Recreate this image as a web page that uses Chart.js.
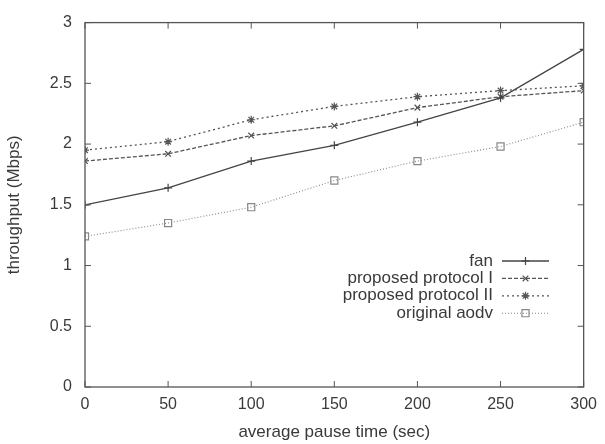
<!DOCTYPE html>
<html>
<head>
<meta charset="utf-8">
<script src="https://cdn.jsdelivr.net/npm/chart.js@4/dist/chart.umd.min.js"></script>
<style>
  html, body { margin: 0; padding: 0; background: #fff; }
  canvas { display: block; }
</style>
</head>
<body>
<canvas id="chart" width="605" height="444"></canvas>
<script>
const pauseTimes = [0, 50, 100, 150, 200, 250, 300]
const fan = [1.50, 1.64, 1.86, 1.99, 2.18, 2.38, 2.78]
const protocolI = [1.86, 1.92, 2.07, 2.15, 2.30, 2.39, 2.44]
const protocolII = [1.95, 2.02, 2.20, 2.31, 2.39, 2.44, 2.48]
const aodv = [1.24, 1.35, 1.48, 1.70, 1.86, 1.98, 2.18]

const xTicks = [0, 50, 100, 150, 200, 250, 300]
const yTicks = [0, 0.5, 1, 1.5, 2, 2.5, 3]

const FONT = '"Liberation Sans", Arial, Helvetica, sans-serif'
const INK = '#3a3a3a'

const pts = arr => arr.map((y, i) => ({ x: pauseTimes[i], y }))

function series(label, data, color, dash, style, radius, width) {
  return {
    label, data: pts(data),
    borderColor: color, borderWidth: width, borderDash: dash,
    pointStyle: style, pointRadius: radius, pointBorderColor: color,
    pointBackgroundColor: 'rgba(0,0,0,0)', pointBorderWidth: 1.2,
    tension: 0, fill: false
  }
}

// gnuplot style box with inward ticks on all four sides
const frame = {
  id: 'frame',
  afterDatasetsDraw(chart) {
    const { ctx, chartArea: a, scales: { x, y } } = chart
    ctx.save()
    ctx.strokeStyle = '#555'
    ctx.lineWidth = 1.3
    ctx.strokeRect(a.left, a.top, a.right - a.left, a.bottom - a.top)
    ctx.lineWidth = 1
    ctx.beginPath()
    xTicks.forEach(v => {
      const px = x.getPixelForValue(v)
      ctx.moveTo(px, a.bottom); ctx.lineTo(px, a.bottom - 6)
      ctx.moveTo(px, a.top); ctx.lineTo(px, a.top + 6)
    })
    yTicks.forEach(v => {
      const py = y.getPixelForValue(v)
      ctx.moveTo(a.left, py); ctx.lineTo(a.left + 6, py)
      ctx.moveTo(a.right, py); ctx.lineTo(a.right - 6, py)
    })
    ctx.stroke()
    ctx.restore()
  }
}

// legend inside the plot: right aligned text, sample on the right
const keyBox = {
  id: 'keyBox',
  afterDatasetsDraw(chart) {
    const { ctx } = chart
    const textRight = 493, lineStart = 502, lineEnd = 549
    ctx.save()
    ctx.font = '17px ' + FONT
    ctx.textAlign = 'right'
    ctx.textBaseline = 'middle'
    chart.data.datasets.forEach((ds, i) => {
      const yy = 261 + i * 17.4
      ctx.fillStyle = INK
      ctx.fillText(ds.label, textRight, yy)
      ctx.strokeStyle = ds.borderColor
      ctx.lineWidth = ds.borderWidth
      ctx.setLineDash(ds.borderDash)
      ctx.beginPath(); ctx.moveTo(lineStart, yy); ctx.lineTo(lineEnd, yy); ctx.stroke()
      ctx.setLineDash([])
      ctx.lineWidth = ds.pointBorderWidth
      ctx.fillStyle = 'rgba(0,0,0,0)'
      Chart.helpers.drawPoint(ctx, { pointStyle: ds.pointStyle, radius: ds.pointRadius, rotation: 0, borderWidth: ds.pointBorderWidth }, (lineStart + lineEnd) / 2, yy)
    })
    ctx.restore()
  }
}

new Chart(document.getElementById('chart'), {
  type: 'line',
  data: {
    datasets: [
      series('fan', fan, '#444', [], 'cross', 4, 1.3),
      series('proposed protocol I', protocolI, '#555', [4, 2], 'crossRot', 4, 1.3),
      series('proposed protocol II', protocolII, '#555', [2, 3], 'star', 4, 1.3),
      series('original aodv', aodv, '#888', [1, 2], 'rect', 5, 1.1)
    ]
  },
  options: {
    responsive: false,
    animation: false,
    layout: { padding: { left: 0, right: 20, top: 14, bottom: 0 } },
    plugins: { legend: { display: false }, tooltip: { enabled: false } },
    scales: {
      x: {
        type: 'linear', min: 0, max: 300,
        afterFit: s => { s.height = 57 },
        afterBuildTicks: s => { s.ticks = xTicks.map(v => ({ value: v })) },
        grid: { display: false, drawTicks: false },
        border: { display: false },
        ticks: { padding: 8, color: INK, font: { family: FONT, size: 16 }, callback: v => String(v) },
        title: { display: true, text: 'average pause time (sec)', color: INK, font: { family: FONT, size: 17 }, padding: { top: 0, bottom: 1 } }
      },
      y: {
        min: 0, max: 3,
        afterFit: s => { s.width = 85 },
        afterBuildTicks: s => { s.ticks = yTicks.map(v => ({ value: v })) },
        grid: { display: false, drawTicks: false },
        border: { display: false },
        ticks: { padding: 13, color: INK, font: { family: FONT, size: 16 }, callback: v => String(v) },
        title: { display: true, text: 'throughput (Mbps)', color: INK, font: { family: FONT, size: 17 }, padding: { top: 4, bottom: 0 } }
      }
    }
  },
  plugins: [frame, keyBox]
})
</script>
</body>
</html>
